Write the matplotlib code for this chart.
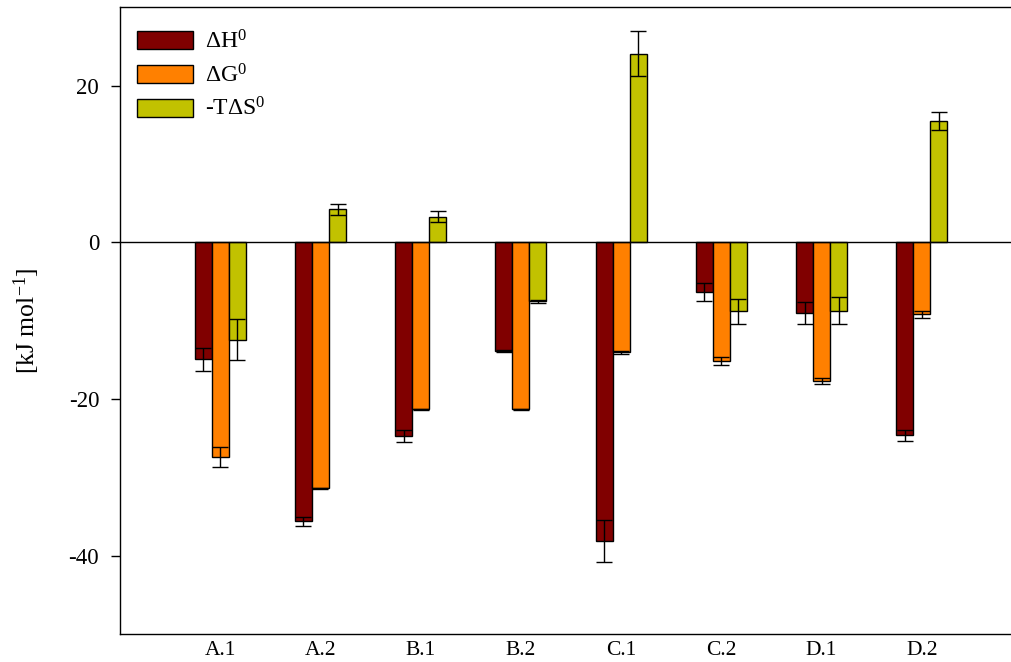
import numpy as np
import matplotlib
matplotlib.use('Agg')
import matplotlib.pyplot as plt

plt.rcParams['font.family'] = ['Liberation Serif', 'DejaVu Serif']
plt.rcParams['mathtext.fontset'] = 'custom'
plt.rcParams['mathtext.rm'] = 'Liberation Serif'
plt.rcParams['mathtext.it'] = 'Liberation Serif'

samples = ['A.1', 'A.2', 'B.1', 'B.2', 'C.1', 'C.2', 'D.1', 'D.2']
dH = [-14.9, -35.6, -24.7, -13.9, -38.1, -6.3, -9.0, -24.6]
dH_err = [1.45, 0.6, 0.77, 0.15, 2.65, 1.13, 1.42, 0.7]
dG = [-27.4, -31.4, -21.3, -21.3, -14.0, -15.1, -17.7, -9.2]
dG_err = [1.26, 0.1, 0.1, 0.1, 0.2, 0.53, 0.35, 0.4]
TdS = [-12.4, 4.2, 3.3, -7.5, 24.1, -8.8, -8.7, 15.5]
TdS_err = [2.6, 0.65, 0.7, 0.2, 2.9, 1.57, 1.68, 1.15]

series = [
    (dH, dH_err, '#800000', r'ΔH$^0$'),
    (dG, dG_err, '#FF8000', r'ΔG$^0$'),
    (TdS, TdS_err, '#C2C200', r'-TΔS$^0$'),
]

fig = plt.figure(figsize=(10.12, 6.62), dpi=100)
ax = fig.add_axes([0.1186, 0.042, 0.8814, 0.947])

x = np.arange(len(samples))
w = 0.17
for k, (vals, errs, color, label) in enumerate(series):
    pos = x + (k - 1) * w
    ax.bar(pos, vals, w, color=color, edgecolor='black', linewidth=1.0,
           label=label, zorder=2)
    ax.errorbar(pos, vals, yerr=errs, fmt='none', ecolor='black',
                elinewidth=1.0, capsize=5.5, capthick=1.0, zorder=3)

ax.axhline(0, color='black', linewidth=1.0, zorder=4)

ax.set_xlim(-1.0, 7.9)
ax.set_ylim(-50, 30)
ax.set_yticks([-40, -20, 0, 20])
ax.set_yticklabels(['-40', '-20', '0', '20'])
ax.set_xticks(x)
ax.set_xticklabels(samples)
ax.tick_params(axis='x', length=0, pad=5, labelsize=15.5)
ax.tick_params(axis='y', length=6.5, width=1.0, pad=8.5, labelsize=16.5,
               direction='out')
ax.spines['right'].set_visible(False)
for s in ['left', 'bottom', 'top']:
    ax.spines[s].set_linewidth(1.0)

ax.set_ylabel(r'[kJ mol$^{-1}$]', fontsize=18.5, labelpad=19)

ax.legend(loc='upper left', frameon=False, fontsize=17,
          handlelength=2.4, handleheight=0.8, labelspacing=0.45,
          handletextpad=0.5, borderaxespad=0.3, borderpad=0.4,
          bbox_to_anchor=(0.0, 0.99))

fig.savefig('out.png', dpi=100)
